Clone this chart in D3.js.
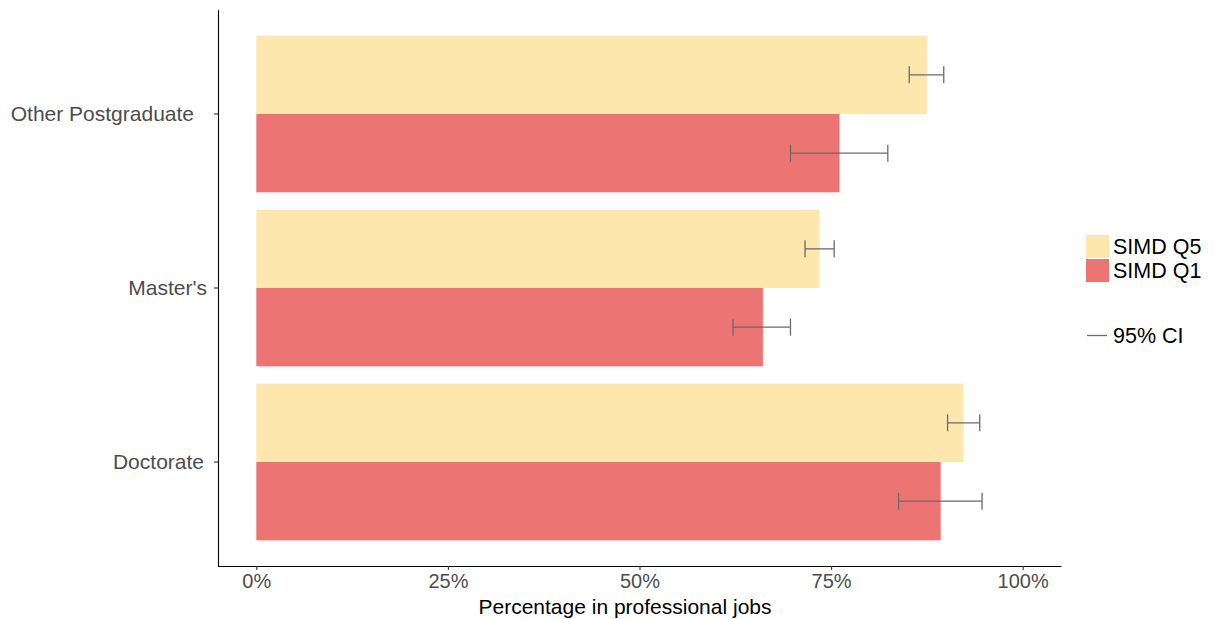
<!DOCTYPE html>
<html>
<head>
<meta charset="utf-8">
<script src="https://cdn.jsdelivr.net/npm/d3@7"></script>
<style>
  html, body { margin: 0; padding: 0; background: #fff; }
  svg { display: block; font-family: "Liberation Sans", Arial, Helvetica, sans-serif; }
</style>
</head>
<body>
<svg id="chart" width="1214" height="619"></svg>
<script>
const categories = ["Other Postgraduate", "Master's", "Doctorate"];
const seriesNames = ["SIMD Q5", "SIMD Q1"];
const q5Values = [87.5, 73.5, 92.3];
const q1Values = [76.1, 66.1, 89.3];
const q5Low = [85.2, 71.6, 90.2];
const q5High = [89.7, 75.4, 94.4];
const q1Low = [69.7, 62.2, 83.8];
const q1High = [82.4, 69.7, 94.7];
const xTicks = [0, 25, 50, 75, 100];
const xTitle = "Percentage in professional jobs";
const ciLabel = "95% CI";

const colors = { "SIMD Q5": "#FDE7AD", "SIMD Q1": "#EC7574" };
const labelShift = { "Other Postgraduate": -13, "Master's": 0, "Doctorate": -3 };

const svg = d3.select("#chart");

const x = d3.scaleLinear().domain([-5, 105]).range([218, 1061]);
const y = d3.scaleBand().domain(categories).range([9.6, 566.4])
  .paddingInner(0.1).paddingOuter(0.15);
const ySub = d3.scaleBand().domain(seriesNames).range([0, y.bandwidth()]);

const rows = [];
categories.forEach((c, i) => {
  rows.push({ cat: c, s: "SIMD Q5", v: q5Values[i], lo: q5Low[i], hi: q5High[i] });
  rows.push({ cat: c, s: "SIMD Q1", v: q1Values[i], lo: q1Low[i], hi: q1High[i] });
});

// bars
svg.append("g").selectAll("rect").data(rows).join("rect")
  .attr("x", x(0))
  .attr("y", d => y(d.cat) + ySub(d.s))
  .attr("width", d => x(d.v) - x(0))
  .attr("height", ySub.bandwidth())
  .attr("fill", d => colors[d.s]);

// error bars
const capH = 8.5;
const eb = svg.append("g").attr("stroke", "#6a6a6a").attr("stroke-width", 1.3).attr("fill", "none");
rows.forEach(d => {
  const cy = y(d.cat) + ySub(d.s) + ySub.bandwidth() / 2;
  eb.append("line").attr("x1", x(d.lo)).attr("x2", x(d.hi)).attr("y1", cy).attr("y2", cy);
  eb.append("line").attr("x1", x(d.lo)).attr("x2", x(d.lo)).attr("y1", cy - capH).attr("y2", cy + capH);
  eb.append("line").attr("x1", x(d.hi)).attr("x2", x(d.hi)).attr("y1", cy - capH).attr("y2", cy + capH);
});

// x axis
const xAxis = d3.axisBottom(x).tickValues(xTicks).tickFormat(d => d + "%")
  .tickSize(4).tickSizeOuter(0).tickPadding(4);
const gx = svg.append("g").attr("transform", "translate(0,566)").call(xAxis);
gx.select(".domain").attr("stroke", "#000").attr("stroke-width", 1.1);
gx.selectAll(".tick line").attr("stroke", "#333").attr("stroke-width", 1.1);
gx.selectAll(".tick text").attr("fill", "#4D4D4D").attr("font-size", 20)
  .attr("font-family", "Liberation Sans, Arial, sans-serif");

// y axis
const yAxis = d3.axisLeft(y).tickSize(4).tickSizeOuter(0).tickPadding(7);
const gy = svg.append("g").attr("transform", "translate(218,0)").call(yAxis);
gy.select(".domain").attr("stroke", "#000").attr("stroke-width", 1.1);
gy.selectAll(".tick line").attr("stroke", "#333").attr("stroke-width", 1.1);
gy.selectAll(".tick text").attr("fill", "#4D4D4D").attr("font-size", 21)
  .attr("font-family", "Liberation Sans, Arial, sans-serif")
  .attr("dx", d => labelShift[d] || 0);

// x title
svg.append("text").attr("x", 625).attr("y", 614)
  .attr("text-anchor", "middle").attr("font-size", 21).attr("fill", "#000")
  .text(xTitle);

// legend
const lg = svg.append("g");
seriesNames.forEach((s, i) => {
  lg.append("rect").attr("x", 1086).attr("y", 235 + i * 24).attr("width", 23).attr("height", 23)
    .attr("fill", colors[s]);
  lg.append("text").attr("x", 1113).attr("y", 246.5 + i * 24).attr("dy", "0.36em")
    .attr("font-size", 21.5).attr("fill", "#000").text(s);
});
lg.append("line").attr("x1", 1087).attr("x2", 1107).attr("y1", 335.5).attr("y2", 335.5)
  .attr("stroke", "#6a6a6a").attr("stroke-width", 1.3);
lg.append("text").attr("x", 1113).attr("y", 335.5).attr("dy", "0.36em")
  .attr("font-size", 21.5).attr("fill", "#000").text(ciLabel);
</script>
</body>
</html>
